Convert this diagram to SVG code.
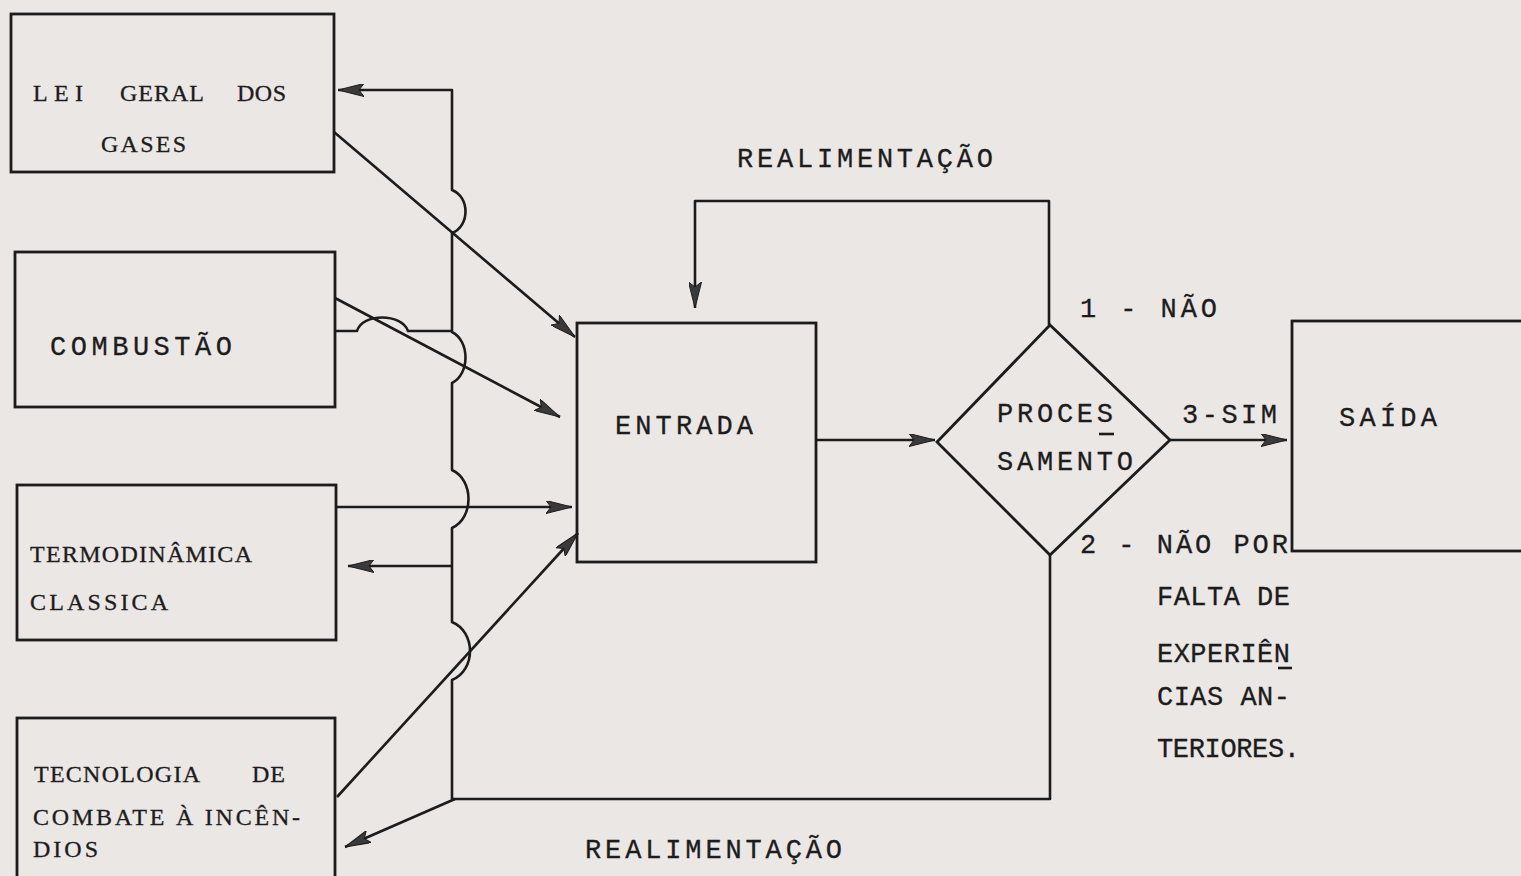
<svg xmlns="http://www.w3.org/2000/svg" width="1521" height="876" viewBox="0 0 1521 876">
<style>
.bg{fill:#ebe7e4}
.box{fill:none;stroke:#1c1c1c;stroke-width:2.8}
.ln{fill:none;stroke:#1c1c1c;stroke-width:2.6;stroke-linejoin:round}
.arr{marker-end:url(#ah)}
.t{font-family:"Liberation Mono","DejaVu Sans Mono",monospace;font-size:27px;fill:#1c1c1c;stroke:#1c1c1c;stroke-width:0.3}
.s{font-family:"Liberation Serif","DejaVu Serif",serif;font-size:24px;fill:#1c1c1c;stroke:#1c1c1c;stroke-width:0.3}
</style>
<defs>
<marker id="ah" viewBox="0 0 26 13" refX="26" refY="6.5" markerWidth="26" markerHeight="13" markerUnits="userSpaceOnUse" orient="auto">
<path d="M0,0 L26,6.5 L0,13 L5,6.5 z" fill="#3a3a3a" stroke="#1c1c1c" stroke-width="1"/>
</marker>
</defs>
<rect class="bg" x="0" y="0" width="1521" height="876"/>

<g id="connectors">
<path class="ln arr" d="M334,132 L575,337"/>
<path class="ln arr" d="M335,298 L560,417"/>
<path class="ln arr" d="M337,507 L572,507"/>
<path class="ln arr" d="M337,797 L578,533"/>
<path class="ln arr" d="M452,566 L348,566"/>
<path class="ln arr" d="M455,799 L345,847"/>
<path class="ln arr" d="M816,440 L935,440"/>
<path class="ln arr" d="M1170,440 L1287,440"/>
<path class="ln arr" d="M1049,325 V201 H695 V308"/>
<path class="ln" d="M335,331 H357 C362,313 402,313 408,331 H452"/>
<path class="ln arr" d="M1050,553 V799 H452 V680 C476,670 476,632 452,622 V528 C474,518 474,480 452,470 V383 C470,374 470,341 452,332 V233 C470,226 470,197 452,190 V90 H338"/>
</g>

<g id="lei-geral">
<rect class="box" x="11" y="14" width="323" height="158"/>
<text class="s" y="101"><tspan x="33" textLength="50" lengthAdjust="spacing">LEI</tspan><tspan x="120" textLength="84" lengthAdjust="spacing">GERAL</tspan><tspan x="237" textLength="49" lengthAdjust="spacing">DOS</tspan></text>
<text class="s" x="101" y="152" textLength="85" lengthAdjust="spacing">GASES</text>
</g>

<g id="combustao">
<rect class="box" x="15" y="252" width="320" height="155"/>
<text class="t" x="50" y="355" textLength="182" lengthAdjust="spacing">COMBUSTÃO</text>
</g>

<g id="termodinamica">
<rect class="box" x="17" y="485" width="319" height="155"/>
<text class="s" x="30" y="562" textLength="222" lengthAdjust="spacing">TERMODINÂMICA</text>
<text class="s" x="30" y="610" textLength="138" lengthAdjust="spacing">CLASSICA</text>
</g>

<g id="tecnologia">
<rect class="box" x="17" y="718" width="318" height="170"/>
<text class="s" y="782"><tspan x="34" textLength="166" lengthAdjust="spacing">TECNOLOGIA</tspan><tspan x="252" textLength="33" lengthAdjust="spacing">DE</tspan></text>
<text class="s" x="33" y="825" textLength="267" lengthAdjust="spacing">COMBATE À INCÊN-</text>
<text class="s" x="33" y="857" textLength="65" lengthAdjust="spacing">DIOS</text>
</g>

<g id="entrada">
<rect class="box" x="577" y="323" width="239" height="239"/>
<text class="t" x="615" y="434" textLength="138" lengthAdjust="spacing">ENTRADA</text>
</g>

<g id="processamento">
<path class="box" d="M1050,325 L1170,440 L1050,555 L937,442 Z"/>
<text class="t" x="997" y="422" textLength="116" lengthAdjust="spacing">PROCES</text>
<line class="ln" x1="1099" y1="434" x2="1114" y2="434"/>
<text class="t" x="997" y="470" textLength="136" lengthAdjust="spacing">SAMENTO</text>
</g>

<g id="saida">
<rect class="box" x="1292" y="321" width="240" height="230"/>
<text class="t" x="1339" y="426" textLength="98" lengthAdjust="spacing">SAÍDA</text>
</g>

<g id="labels">
<text class="t" x="737" y="167" textLength="256" lengthAdjust="spacing">REALIMENTAÇÃO</text>
<text class="t" x="585" y="858" textLength="257" lengthAdjust="spacing">REALIMENTAÇÃO</text>
<text class="t" x="1080" y="317" textLength="137" lengthAdjust="spacing">1 - NÃO</text>
<text class="t" x="1182" y="423" textLength="95" lengthAdjust="spacing">3-SIM</text>
<text class="t" x="1080" y="553" textLength="208" lengthAdjust="spacing">2 - NÃO POR</text>
<text class="t" x="1157" y="605" textLength="133" lengthAdjust="spacing">FALTA DE</text>
<text class="t" x="1157" y="662" textLength="133" lengthAdjust="spacing">EXPERIÊN</text>
<line class="ln" x1="1278" y1="668" x2="1292" y2="668"/>
<text class="t" x="1157" y="705" textLength="133" lengthAdjust="spacing">CIAS AN-</text>
<text class="t" x="1157" y="757" textLength="143" lengthAdjust="spacing">TERIORES.</text>
</g>
</svg>
